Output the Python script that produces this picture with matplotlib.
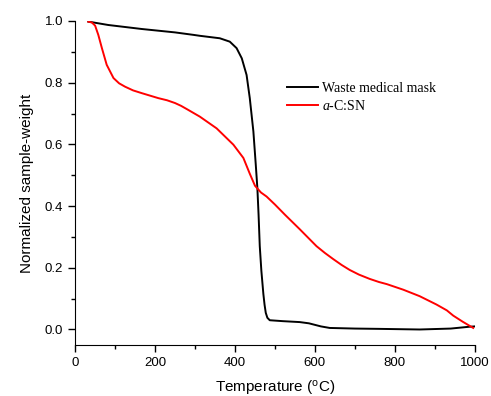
import matplotlib
matplotlib.use('Agg')
import matplotlib.pyplot as plt
from matplotlib.ticker import MultipleLocator

plt.rcParams['mathtext.fontset'] = 'custom'
plt.rcParams['mathtext.it'] = 'Liberation Serif:italic'
plt.rcParams['mathtext.rm'] = 'Liberation Serif'
plt.rcParams['mathtext.sf'] = 'Liberation Sans'

# TGA curves
mask_temp = [33, 83, 167, 250, 296, 312, 362, 387, 404, 417, 429, 437, 446, 452,
             456, 459, 462, 466, 471, 474, 477, 481, 487, 520, 562, 585, 600, 615,
             637, 700, 762, 862, 940, 987, 1000]
mask_weight = [0.998, 0.987, 0.974, 0.963, 0.955, 0.952, 0.944, 0.933, 0.912, 0.879,
               0.825, 0.75, 0.642, 0.534, 0.458, 0.372, 0.27, 0.19, 0.115, 0.08,
               0.054, 0.038, 0.03, 0.027, 0.024, 0.02, 0.015, 0.01, 0.005, 0.003,
               0.002, 0.0, 0.003, 0.009, 0.01]

acsn_temp = [33, 42, 50, 58, 67, 79, 96, 110, 125, 145, 167, 208, 230, 250, 265, 280,
             312, 354, 396, 421, 437, 450, 465, 479, 500, 525, 562, 604, 625, 646,
             667, 687, 710, 737, 760, 780, 821, 862, 904, 930, 946, 970, 996]
acsn_weight = [0.998, 0.995, 0.985, 0.955, 0.912, 0.858, 0.815, 0.798, 0.787, 0.775,
               0.766, 0.75, 0.743, 0.734, 0.725, 0.714, 0.69, 0.652, 0.599, 0.556,
               0.505, 0.466, 0.444, 0.431, 0.405, 0.372, 0.325, 0.27, 0.248, 0.228,
               0.209, 0.193, 0.178, 0.164, 0.154, 0.147, 0.129, 0.108, 0.081, 0.062,
               0.045, 0.025, 0.005]

fig = plt.figure(figsize=(4.91, 3.96), dpi=100)
ax = fig.add_axes([0.153, 0.129, 0.814, 0.818])

ax.plot(mask_temp, mask_weight, color='black', lw=1.4, label='Waste medical mask',
        solid_joinstyle='round')
ax.plot(acsn_temp, acsn_weight, color='red', lw=1.4, label='$a$-C:SN',
        solid_joinstyle='round')

ax.set_xlim(0, 1000)
ax.set_ylim(-0.05, 1.0)
ax.spines['top'].set_visible(False)
ax.spines['right'].set_visible(False)
ax.xaxis.set_major_locator(MultipleLocator(200))
ax.xaxis.set_minor_locator(MultipleLocator(100))
ax.yaxis.set_major_locator(MultipleLocator(0.2))
ax.yaxis.set_minor_locator(MultipleLocator(0.1))
ax.tick_params(which='major', direction='out', length=5, width=1, labelsize=9.5)
ax.tick_params(which='minor', direction='out', length=3, width=1)
ax.yaxis.set_major_formatter(plt.FormatStrFormatter('%.1f'))
for lab in ax.get_xticklabels() + ax.get_yticklabels():
    lab.set_family('Liberation Sans')

ax.set_xlabel('Temperature ($^{\\mathsf{o}}$C)', fontsize=11, family='Liberation Sans', labelpad=7)
ax.set_ylabel('Normalized sample-weight', fontsize=11, family='Liberation Sans', labelpad=8)

ax.legend(loc='upper left', bbox_to_anchor=(0.5, 0.85), frameon=False,
          prop={'family': 'Liberation Serif', 'size': 10}, handlelength=2.2,
          handletextpad=0.3, labelspacing=0.25)

fig.savefig('out.png', dpi=100)
